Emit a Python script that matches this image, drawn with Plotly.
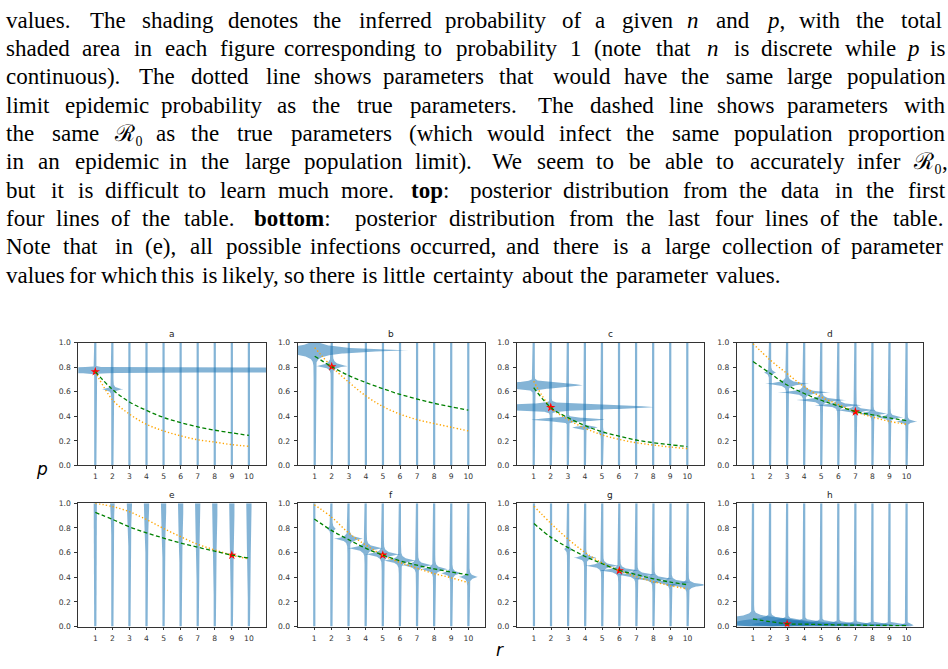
import re
import numpy as np
import plotly.graph_objects as go

FIG_W, FIG_H = 948, 669

# ---------------- caption text ----------------
caption_lines = [
    "values. The shading denotes the inferred probability of a given $n$ and $p$, with the total",
    "shaded area in each figure corresponding to probability 1 (note that $n$ is discrete while $p$ is",
    "continuous). The dotted line shows parameters that would have the same large population",
    "limit epidemic probability as the true parameters. The dashed line shows parameters with",
    "the same {R0} as the true parameters (which would infect the same population proportion",
    "in an epidemic in the large population limit). We seem to be able to accurately infer {R0},",
    "but it is difficult to learn much more. *top*: posterior distribution from the data in the first",
    "four lines of the table. *bottom*: posterior distribution from the last four lines of the table.",
    "Note that in (e), all possible infections occurred, and there is a large collection of parameter",
    "values for which this is likely, so there is little certainty about the parameter values.",
]

# ---------------- chart data ----------------
panel_titles = ["a", "b", "c", "d", "e", "f", "g", "h"]
n_values = [1, 2, 3, 4, 5, 6, 7, 8, 9, 10]
p_ticks = [0.0, 0.2, 0.4, 0.6, 0.8, 1.0]
p_tick_labels = ["0.0", "0.2", "0.4", "0.6", "0.8", "1.0"]

true_n = [1, 2, 2, 7, 9, 5, 6, 3]
true_p = [0.764, 0.804, 0.472, 0.437, 0.578, 0.579, 0.453, 0.02]

# same R0 as the true parameters (dashed green)
r0_a = [0.764, 0.619, 0.517, 0.448, 0.391, 0.349, 0.314, 0.287, 0.265, 0.244]
r0_b = [0.89, 0.804, 0.732, 0.675, 0.625, 0.579, 0.541, 0.506, 0.477, 0.45]
r0_c = [0.633, 0.472, 0.389, 0.325, 0.274, 0.239, 0.207, 0.185, 0.169, 0.153]
r0_d = [0.847, 0.751, 0.655, 0.586, 0.531, 0.484, 0.44, 0.412, 0.387, 0.364]
r0_e = [0.925, 0.869, 0.808, 0.76, 0.717, 0.677, 0.643, 0.611, 0.579, 0.555]
r0_f = [0.872, 0.78, 0.705, 0.635, 0.579, 0.533, 0.497, 0.467, 0.442, 0.418]
r0_g = [0.835, 0.723, 0.64, 0.568, 0.509, 0.455, 0.421, 0.387, 0.36, 0.339]
r0_h = [0.061, 0.04, 0.022, 0.019, 0.016, 0.013, 0.011, 0.0095, 0.008, 0.007]

# same large-population epidemic probability (dotted orange)
epi_a = [0.764, 0.536, 0.418, 0.335, 0.281, 0.241, 0.209, 0.19, 0.169, 0.156]
epi_b = [0.96, 0.804, 0.678, 0.566, 0.48, 0.418, 0.373, 0.341, 0.311, 0.281]
epi_c = [0.686, 0.472, 0.375, 0.303, 0.249, 0.212, 0.185, 0.166, 0.15, 0.137]
epi_d = [0.992, 0.86, 0.748, 0.641, 0.558, 0.496, 0.437, 0.394, 0.359, 0.335]
epi_e = [1.0, 0.973, 0.931, 0.867, 0.795, 0.728, 0.667, 0.621, 0.579, 0.547]
epi_f = [0.987, 0.888, 0.76, 0.661, 0.579, 0.52, 0.472, 0.429, 0.395, 0.355]
epi_g = [0.976, 0.835, 0.709, 0.6, 0.515, 0.453, 0.403, 0.363, 0.331, 0.304]
epi_h = None

# posterior masses: (n, p_centre, half_width, spread_below, spread_above, sharpness)
post_a = [(1, 0.776, 300.0, 0.01, 0.01, 2), (2, 0.62, 0.57, 0.011, 0.011, 1)]
post_b = [(1, 0.937, 5.6, 0.02, 0.02, 1), (2, 0.809, 0.87, 0.013, 0.018, 1)]
post_c = [(1, 0.652, 2.81, 0.024, 0.024, 2), (2, 0.474, 5.91, 0.022, 0.022, 2),
          (3, 0.373, 2.08, 0.015, 0.015, 2), (4, 0.309, 0.68, 0.01, 0.01, 2),
          (5, 0.265, 0.15, 0.01, 0.01, 1)]
post_d = [(2, 0.757, 0.3, 0.012, 0.012, 1), (3, 0.665, 1.22, 0.012, 0.014, 1),
          (4, 0.595, 1.48, 0.011, 0.012, 1), (5, 0.532, 1.46, 0.011, 0.012, 1),
          (6, 0.49, 1.32, 0.01, 0.011, 1), (7, 0.45, 1.12, 0.01, 0.011, 1),
          (8, 0.422, 0.88, 0.009, 0.01, 1), (9, 0.392, 0.78, 0.009, 0.01, 1),
          (10, 0.357, 0.6, 0.009, 0.01, 1)]
post_e = [(1, 1.0, 0.03, 0.04, 0.04, 3), (2, 1.0, 0.07, 0.12, 0.12, 3),
          (3, 1.0, 0.09, 0.19, 0.19, 3), (4, 1.0, 0.09, 0.25, 0.25, 3),
          (5, 1.0, 0.09, 0.30, 0.30, 3), (6, 1.0, 0.09, 0.35, 0.35, 3),
          (7, 1.0, 0.09, 0.385, 0.385, 3), (8, 1.0, 0.09, 0.42, 0.42, 3),
          (9, 1.0, 0.09, 0.45, 0.45, 3), (10, 1.0, 0.09, 0.47, 0.47, 3)]
post_f = [(2, 0.792, 0.2, 0.012, 0.015, 1), (3, 0.712, 0.8, 0.015, 0.015, 1),
          (4, 0.635, 0.98, 0.016, 0.016, 1), (5, 0.585, 0.97, 0.016, 0.016, 1),
          (6, 0.535, 0.88, 0.016, 0.016, 1), (7, 0.497, 0.83, 0.015, 0.015, 1),
          (8, 0.465, 0.73, 0.015, 0.015, 1), (9, 0.432, 0.54, 0.014, 0.014, 1),
          (10, 0.402, 0.49, 0.014, 0.014, 1)]
post_g = [(3, 0.627, 0.18, 0.012, 0.012, 1), (4, 0.558, 0.62, 0.012, 0.012, 1),
          (5, 0.493, 0.93, 0.013, 0.013, 1), (6, 0.455, 1.12, 0.013, 0.013, 1),
          (7, 0.42, 1.13, 0.013, 0.013, 1), (8, 0.388, 1.08, 0.012, 0.012, 1),
          (9, 0.36, 1.13, 0.012, 0.012, 1), (10, 0.337, 1.3, 0.012, 0.012, 1)]
post_h = [(1, 0.03, 3.0, 0.03, 0.045, 2), (2, 0.025, 2.5, 0.028, 0.035, 2),
          (3, 0.02, 2.0, 0.022, 0.03, 2), (4, 0.017, 1.7, 0.02, 0.025, 2),
          (5, 0.015, 1.5, 0.018, 0.022, 2), (6, 0.013, 1.4, 0.015, 0.018, 2),
          (7, 0.012, 1.3, 0.013, 0.016, 2), (8, 0.011, 1.2, 0.012, 0.014, 2),
          (9, 0.01, 1.1, 0.011, 0.013, 2), (10, 0.009, 0.35, 0.01, 0.012, 2)]

r0_curves = [r0_a, r0_b, r0_c, r0_d, r0_e, r0_f, r0_g, r0_h]
epi_curves = [epi_a, epi_b, epi_c, epi_d, epi_e, epi_f, epi_g, epi_h]
posteriors = [post_a, post_b, post_c, post_d, post_e, post_f, post_g, post_h]
x_ranges = [[0.004, 11.02], [-0.008, 10.98], [0.004, 10.95], [0.045, 10.98],
            [0.004, 11.02], [0.02, 10.97], [-0.01, 10.93], [0.045, 10.98]]

# ---------------- layout geometry (pixels) ----------------
COLS = [(78.3, 266.3), (297.5, 485.0), (516.7, 703.5), (736.7, 923.3)]
ROWS = [(343.3, 467.7), (506.0, 631.0)]
TITLE_Y = [335.0, 497.3]

VIOLIN_FILL = "rgba(31,119,180,0.55)"
BASE_HW = 0.065


def px_x(x):
    return x / FIG_W


def px_y(y):
    return 1 - y / FIG_H


fig = go.Figure()
layout = dict(width=FIG_W, height=FIG_H, autosize=False,
              margin=dict(l=0, r=0, t=0, b=0),
              paper_bgcolor="white", plot_bgcolor="white", showlegend=False)
annotations = []

tickfont = dict(family="DejaVu Sans", size=7.6, color="#333")

for i in range(8):
    row, col = divmod(i, 4)
    ax = "" if i == 0 else str(i + 1)
    xa, ya = "x" + ax, "y" + ax
    c0, c1 = COLS[col]
    r0, r1 = ROWS[row]
    layout["xaxis" + ax] = dict(domain=[px_x(c0), px_x(c1)], range=x_ranges[i], anchor=ya,
                               tickvals=n_values, ticks="outside", ticklen=3, tickwidth=0.8,
                               tickcolor="#333", tickfont=tickfont, showgrid=False, zeroline=False,
                               showline=True, mirror=True, linecolor="#333", linewidth=0.9,
                               ticklabelstandoff=1)
    layout["yaxis" + ax] = dict(domain=[px_y(r1), px_y(r0)], range=[0, 1], anchor=xa,
                               tickvals=p_ticks, ticktext=p_tick_labels, ticks="outside",
                               ticklen=3, tickwidth=0.8, tickcolor="#333", tickfont=tickfont,
                               showgrid=False, zeroline=False, showline=True, mirror=True,
                               linecolor="#333", linewidth=0.9, ticklabelstandoff=2)

    # violins
    pgrid = np.linspace(0, 1, 801)
    for n in n_values:
        hw = np.full_like(pgrid, BASE_HW)
        for (vn, pc, w, sd, su, k) in posteriors[i]:
            if vn != n:
                continue
            d = pgrid - pc
            s = np.where(d < 0, sd, su)
            hw = hw + w * np.exp(-(np.abs(d) / s) ** k)
        xs = np.concatenate([n + hw, (n - hw)[::-1]])
        ys = np.concatenate([pgrid, pgrid[::-1]])
        fig.add_trace(go.Scatter(x=xs, y=ys, xaxis=xa, yaxis=ya, mode="lines",
                                 fill="toself", fillcolor=VIOLIN_FILL,
                                 line=dict(width=0), hoverinfo="skip"))

    # true parameters
    fig.add_trace(go.Scatter(x=[true_n[i]], y=[true_p[i]], xaxis=xa, yaxis=ya, mode="markers",
                             marker=dict(symbol="star", size=7, color="red", line=dict(width=0))))
    # curves
    if epi_curves[i] is not None:
        fig.add_trace(go.Scatter(x=n_values, y=epi_curves[i], xaxis=xa, yaxis=ya, mode="lines",
                                 line=dict(color="#FFA500", width=1.4, dash="1.3px,2.2px",
                                           shape="spline")))
    fig.add_trace(go.Scatter(x=n_values, y=r0_curves[i], xaxis=xa, yaxis=ya, mode="lines",
                             line=dict(color="green", width=1.3, dash="4px,2.5px", shape="spline")))

    annotations.append(dict(text=panel_titles[i], x=px_x((c0 + c1) / 2), y=px_y(TITLE_Y[row]),
                            xref="paper", yref="paper", xanchor="center", yanchor="middle",
                            showarrow=False, font=dict(family="DejaVu Sans", size=9, color="#222")))

# axis labels
annotations.append(dict(text="<i>p</i>", x=px_x(41.5), y=px_y(471), xref="paper", yref="paper",
                        xanchor="center", yanchor="middle", showarrow=False,
                        font=dict(family="DejaVu Sans", size=17, color="black")))
annotations.append(dict(text="<i>r</i>", x=px_x(500.5), y=px_y(655), xref="paper", yref="paper",
                        xanchor="center", yanchor="middle", showarrow=False,
                        font=dict(family="DejaVu Sans", size=17, color="black")))

# ---------------- justified caption ----------------
CMR = dict(a=500, b=556, c=444, d=556, e=444, f=306, g=500, h=556, i=278, j=306, k=528, l=278,
           m=833, n=556, o=500, p=556, q=528, r=392, s=394, t=389, u=556, v=528, w=722, x=528,
           y=528, z=444, N=750, T=722, W=1028)
CMR.update({".": 278, ",": 278, ":": 278, "(": 389, ")": 389, "1": 500})
CMMI = dict(n=600, p=503)
CMBX = dict(t=447, o=575, p=639, b=639, m=958)

EM = 20.8          # px per em of the caption font
TEXT_LEFT = 6.0
TEXT_WIDTH = 938.0
LINE_Y0 = 16.5
LINE_STEP = 28.7


def roman_width(s):
    total = 0
    i = 0
    while i < len(s):
        if s.startswith("ffi", i):
            total += 833; i += 3; continue
        if s.startswith("fi", i):
            total += 556; i += 2; continue
        if s.startswith("ff", i):
            total += 583; i += 2; continue
        total += CMR.get(s[i], 500)
        i += 1
    return total


def token_info(tok):
    parts = re.split(r"(\$[^$]+\$|\*[^*]+\*|\{R0\})", tok)
    width = 0
    html = ""
    for part in parts:
        if not part:
            continue
        if part.startswith("$"):
            inner = part[1:-1]
            width += sum(CMMI.get(ch, 550) for ch in inner)
            html += "<i>" + inner + "</i>"
        elif part.startswith("*"):
            inner = part[1:-1]
            width += sum(CMBX.get(ch, 600) for ch in inner)
            html += "<b>" + inner + "</b>"
        elif part == "{R0}":
            width += 1200
            html += "ℛ₀"
        else:
            width += roman_width(part)
            html += part
    return width, html


def sentence_end(tok):
    t = tok.rstrip(")")
    return t.endswith(".") or t.endswith(":")


for li, line in enumerate(caption_lines):
    toks = line.split(" ")
    infos = [token_info(t) for t in toks]
    widths = [w * EM / 1000 for w, _ in infos]
    nat = [(333 + (250 if sentence_end(t) else 0)) * EM / 1000 for t in toks[:-1]]
    gaps = list(nat)
    if li < len(caption_lines) - 1:
        excess = TEXT_WIDTH - (sum(widths) + sum(nat))
        gaps = [g + excess / len(nat) for g in nat]
    x = TEXT_LEFT
    yc = LINE_Y0 + LINE_STEP * li
    for k, (tok, (w, html)) in enumerate(zip(toks, infos)):
        annotations.append(dict(text=html, x=px_x(x - 2), y=px_y(yc), xref="paper", yref="paper",
                                xanchor="left", yanchor="middle", showarrow=False,
                                font=dict(family="Liberation Serif", size=23, color="black")))
        x += widths[k]
        if k < len(gaps):
            x += gaps[k]

layout["annotations"] = annotations
fig.update_layout(**layout)
fig.write_html("out.html", config={"displayModeBar": False})
